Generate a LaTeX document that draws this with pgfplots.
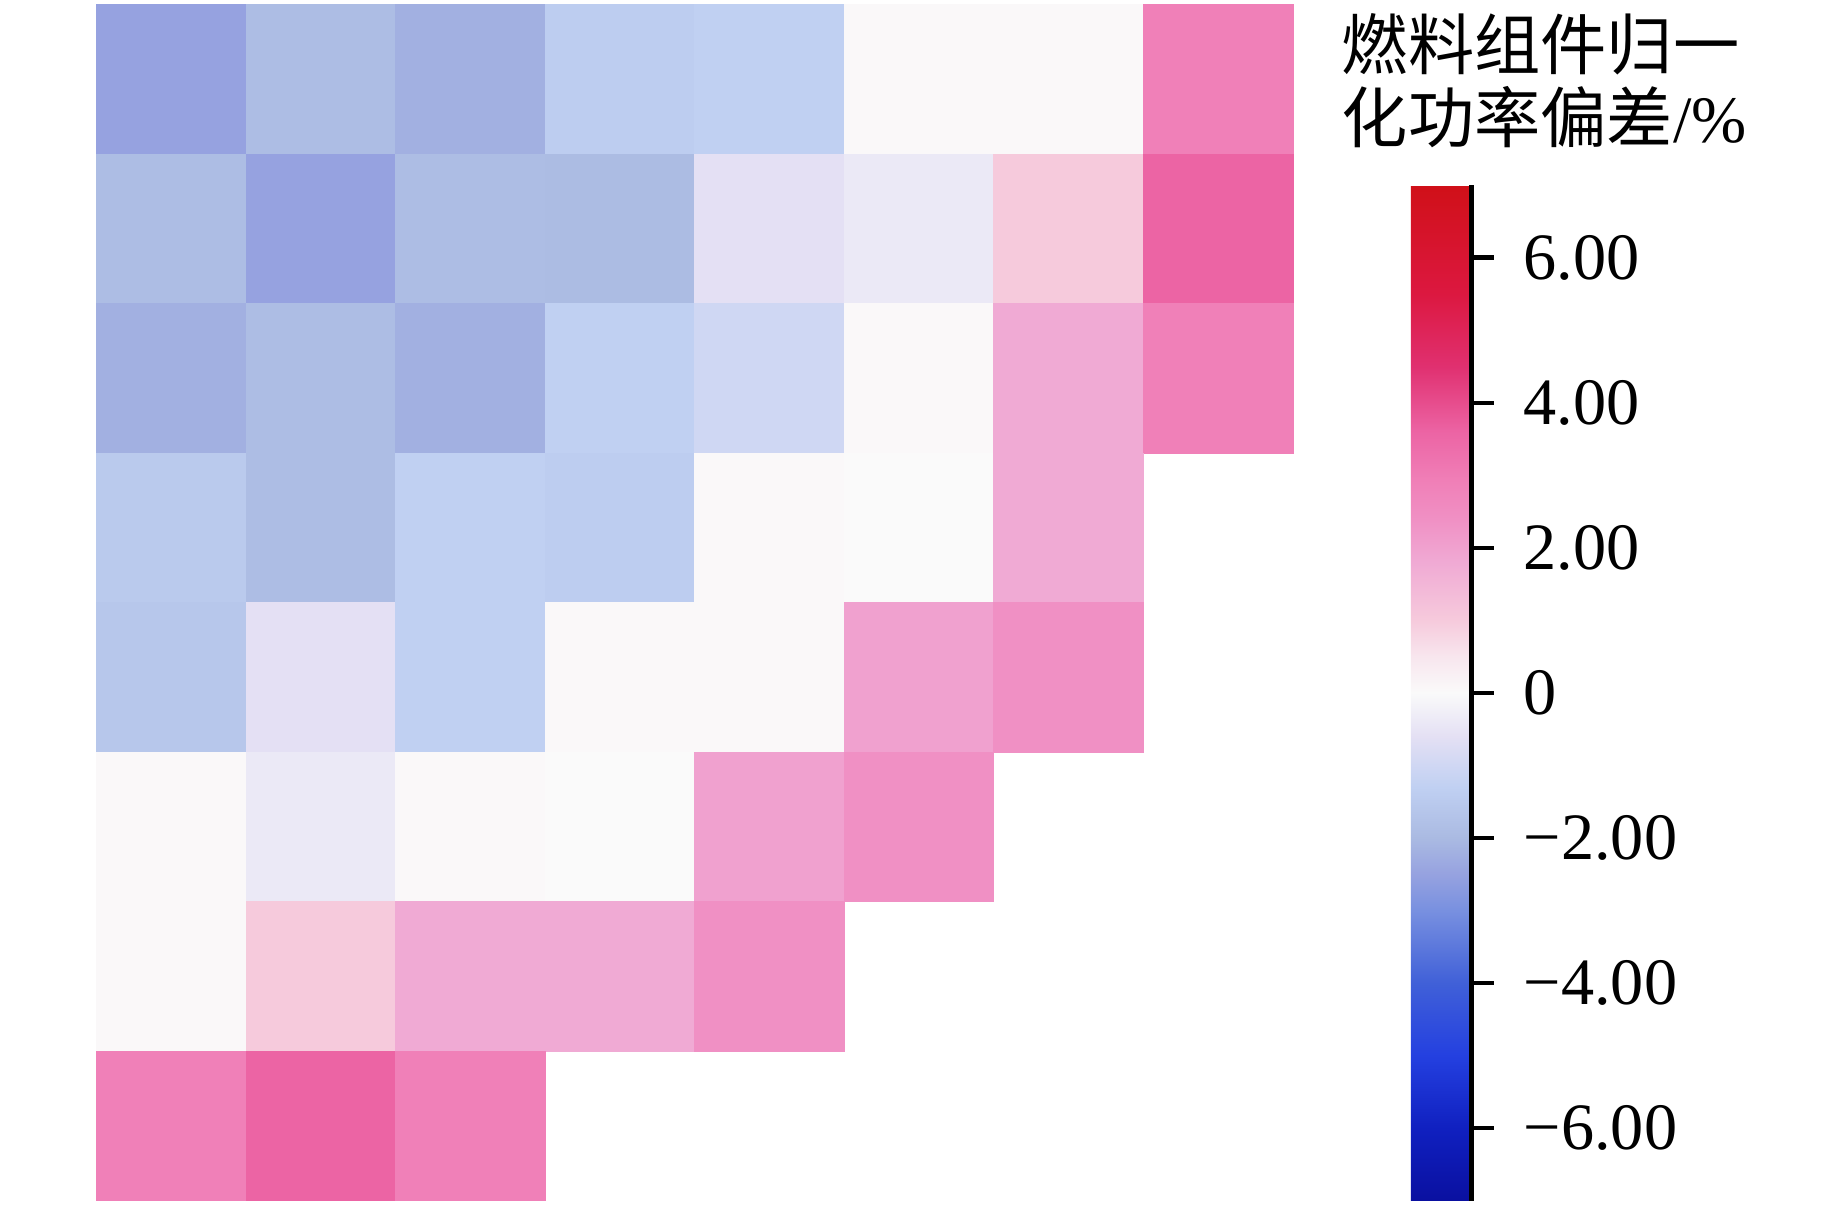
\documentclass[border=0pt]{standalone}
\usepackage{fontspec}
\setmainfont{Liberation Serif}
\newfontfamily\cjk{Noto Sans CJK SC}
\usepackage{pgfplots}
\usepackage{pgfplotstable}
\pgfplotsset{compat=1.18}

% x = column, y = row (row 1 at top), v = normalised power deviation in %
\pgfplotstableread{
x y v
1 1 -2.5
2 1 -1.9
3 1 -2.2
4 1 -1.4
5 1 -1.3
6 1 0.05
7 1 0.05
8 1 2.9
1 2 -1.9
2 2 -2.5
3 2 -1.9
4 2 -1.95
5 2 -0.6
6 2 -0.4
7 2 1.0
8 2 3.6
1 3 -2.2
2 3 -1.9
3 3 -2.2
4 3 -1.3
5 3 -1.0
6 3 0.05
7 3 1.8
8 3 2.9
1 4 -1.5
2 4 -1.9
3 4 -1.3
4 4 -1.4
5 4 0.05
6 4 0.0
7 4 1.8
1 5 -1.6
2 5 -0.6
3 5 -1.3
4 5 0.05
5 5 0.05
6 5 2.0
7 5 2.4
1 6 0.05
2 6 -0.4
3 6 0.05
4 6 0.0
5 6 2.0
6 6 2.4
1 7 0.05
2 7 1.0
3 7 1.8
4 7 1.8
5 7 2.4
1 8 2.9
2 8 3.6
3 8 2.9
}\cells

\begin{document}
\fontsize{16}{17}\selectfont
\begin{tikzpicture}
\path[use as bounding box] (-8.2mm,-1.2mm) rectangle (148.2mm,101.9mm);
\begin{axis}[
  x=12.69mm, y=12.69mm, y dir=reverse,
  xmin=0.5, xmax=8.5, ymin=0.5, ymax=8.5,
  hide axis,
  colormap={bwr}{
    rgb255(0)=(10,16,160)
    rgb255(1)=(16,32,192)
    rgb255(2)=(36,64,224)
    rgb255(3)=(64,96,216)
    rgb255(4)=(120,144,224)
    rgb255(4.5)=(150,162,224)
    rgb255(5)=(170,186,226)
    rgb255(5.7)=(192,208,242)
    rgb255(6.4)=(228,224,244)
    rgb255(7)=(250,250,250)
    rgb255(7.5)=(248,230,238)
    rgb255(8)=(246,202,220)
    rgb255(8.8)=(240,170,212)
    rgb255(9.4)=(240,144,196)
    rgb255(9.9)=(240,128,184)
    rgb255(10.6)=(236,100,164)
    rgb255(11.5)=(224,48,112)
    rgb255(12.5)=(220,24,64)
    rgb255(14)=(208,16,24)
  },
  point meta min=-7, point meta max=7,
  colorbar,
  colorbar style={
    at={(parent axis.south east)}, anchor=south west, xshift=7.0mm,
    scale only axis, width=5.15mm, height=86.2mm,
    axis y line*=right, axis x line=none,
    ytick={-6,-4,-2,0,2,4,6},
    yticklabels={−6.00,−4.00,−2.00,0,2.00,4.00,6.00},
    tick align=outside, major tick length=1.9mm,
    tick style={line width=1pt, black},
    axis line style={line width=1pt},
    yticklabel style={font=\fontsize{16}{17}\selectfont, xshift=0.6mm},
  },
]
\addplot[scatter, only marks, mark=square*, mark size=6.345mm,
  point meta=explicit,
  scatter/use mapped color={draw=mapped color, fill=mapped color},
  mark options={line width=0.2pt}]
  table[x=x, y=y, meta=v]{\cells};
\end{axis}
\node[anchor=north west, inner sep=0pt, align=left, font=\fontsize{16}{17.5}\selectfont]
  at (105.6mm,100.8mm) {{\cjk 燃料组件归一}\\{\cjk 化功率偏差}/\%};
\end{tikzpicture}
\end{document}
